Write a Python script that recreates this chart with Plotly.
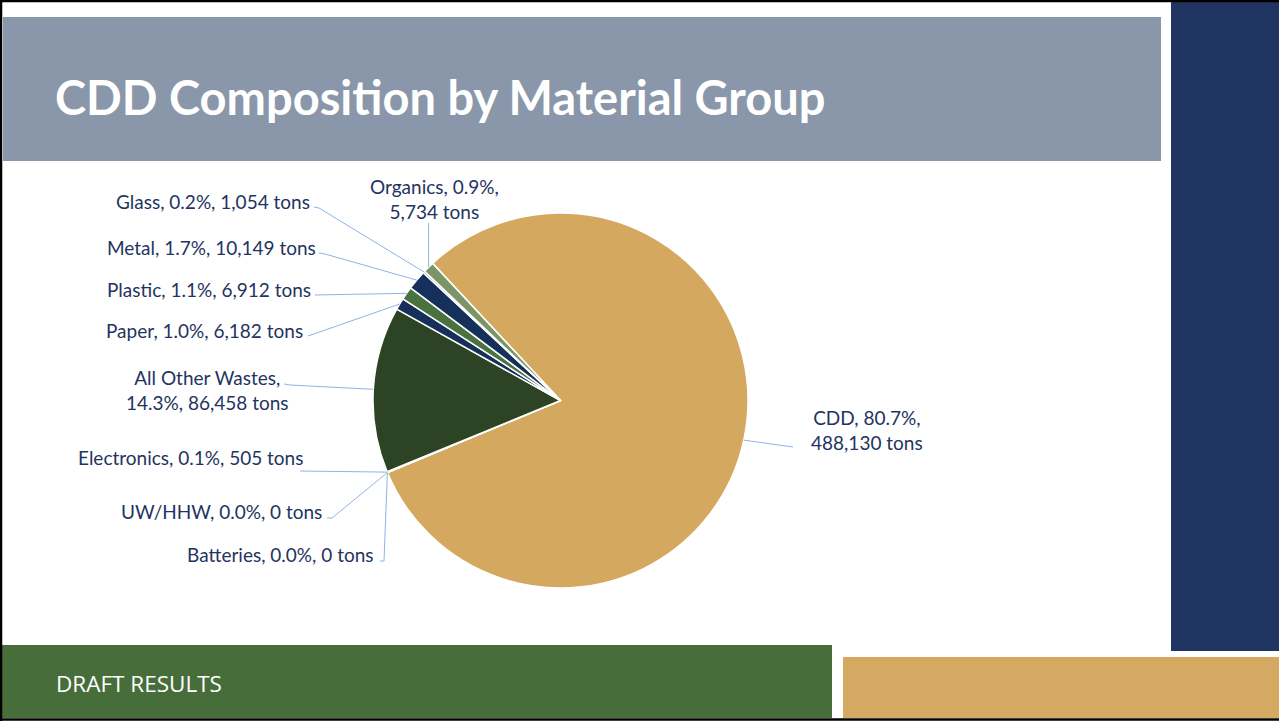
import math
import plotly.graph_objects as go

W, H = 1279, 721

# Material groups, tonnage and shares, in drawing order (clockwise)
materials = ["CDD", "Batteries", "UW/HHW", "Electronics", "All Other Wastes",
             "Paper", "Plastic", "Metal", "Glass", "Organics"]
tons = [488130, 0, 0, 505, 86458, 6182, 6912, 10149, 1054, 5734]
shares = ["80.7%", "0.0%", "0.0%", "0.1%", "14.3%", "1.0%", "1.1%", "1.7%", "0.2%", "0.9%"]
colors = ["#D4A95F", "#C0504D", "#8064A2", "#4BACC6", "#2C4424",
          "#17305A", "#4A7140", "#15305A", "#8A97AA", "#7C9566"]

# Label placement: (x, y, xanchor, line breaks after the share)
label_layout = {
    "CDD": (867, 430, "center", True),
    "Batteries": (376, 554, "right", False),
    "UW/HHW": (324, 511, "right", False),
    "Electronics": (305, 457, "right", False),
    "All Other Wastes": (207, 390, "center", "name"),
    "Paper": (305, 330, "right", False),
    "Plastic": (313, 289, "right", False),
    "Metal": (318, 247, "right", False),
    "Glass": (312, 201, "right", False),
    "Organics": (434, 199, "center", True),
}
# Leader-line bends near each label (pixel positions), the slice end is computed
leader_bends = {
    "CDD": [(793, 447)],
    "Batteries": [(380, 561), (384, 561)],
    "UW/HHW": [(327, 518), (332, 518)],
    "Electronics": [(300, 471)],
    "All Other Wastes": [(284, 384), (290, 385)],
    "Paper": [(308, 336)],
    "Plastic": [(315, 295)],
    "Metal": [(319, 253), (325, 254)],
    "Glass": [(314, 207), (319, 208)],
    "Organics": [(None, 223)],
}

ROTATION = 317
CX, CY, R = 560.5, 400.5, 187.5

TEXT = "#1F3461"
LEADER = "#8EB4E3"


def px(x):
    return x / W


def py(y):
    return 1 - y / H


fig = go.Figure()

fig.add_trace(go.Pie(
    labels=materials,
    values=tons,
    sort=False,
    direction="clockwise",
    rotation=ROTATION,
    marker=dict(colors=colors, line=dict(color="white", width=1.5)),
    textinfo="none",
    hovertemplate="%{label}: %{value:,} tons<extra></extra>",
    showlegend=False,
    domain=dict(x=[px(CX - R), px(CX + R)], y=[py(CY + R), py(CY - R)]),
))

shapes = []
# slide decoration
shapes.append(dict(type="rect", xref="paper", yref="paper", x0=px(3), x1=px(1161), y0=py(17), y1=py(161),
                   fillcolor="#8A97AA", line=dict(width=0), layer="below"))
shapes.append(dict(type="rect", xref="paper", yref="paper", x0=px(1171), x1=px(1279), y0=py(2), y1=py(651),
                   fillcolor="#1F3461", line=dict(width=0), layer="below"))
shapes.append(dict(type="rect", xref="paper", yref="paper", x0=px(2), x1=px(832), y0=py(645), y1=py(718),
                   fillcolor="#476E3A", line=dict(width=0), layer="below"))
shapes.append(dict(type="rect", xref="paper", yref="paper", x0=px(843), x1=px(1279), y0=py(657), y1=py(718),
                   fillcolor="#D4AA62", line=dict(width=0), layer="below"))
for (x0, y0, x1, y1) in [(0, 1, W, 1), (1, 0, 1, H), (0, 719.5, W, 719.5)]:
    shapes.append(dict(type="line", xref="paper", yref="paper", x0=px(x0), y0=py(y0), x1=px(x1), y1=py(y1),
                       line=dict(color="black", width=2.5)))

# leader lines, ending at the outer midpoint of each slice
total = sum(tons)
cum = 0
annotations = []
for name, v, share in zip(materials, tons, shares):
    mid = ROTATION + (cum + v / 2) / total * 360
    cum += v
    a = math.radians(mid)
    ax, ay = CX + R * math.sin(a), CY - R * math.cos(a)
    pts = [(ax if x is None else x, y) for x, y in leader_bends[name]]
    if name == "CDD":
        pts = [(ax, ay)] + pts
    else:
        pts = pts + [(ax, ay)]
    for (x0, y0), (x1, y1) in zip(pts[:-1], pts[1:]):
        shapes.append(dict(type="line", xref="paper", yref="paper", x0=px(x0), y0=py(y0), x1=px(x1), y1=py(y1),
                           line=dict(color=LEADER, width=1)))

    lx, ly, anchor, brk = label_layout[name]
    if brk == "name":
        text = f"{name},<br>{share}, {v:,} tons"
    elif brk:
        text = f"{name}, {share},<br>{v:,} tons"
    else:
        text = f"{name}, {share}, {v:,} tons"
    annotations.append(dict(xref="paper", yref="paper", x=px(lx), y=py(ly), xanchor=anchor, yanchor="middle",
                            text=text, showarrow=False, align="center",
                            font=dict(family="Lato", size=19, color=TEXT)))

annotations.append(dict(xref="paper", yref="paper", x=px(53), y=py(97), xanchor="left", yanchor="middle",
                        text="<b>CDD Composition by Material Group</b>", showarrow=False,
                        font=dict(family="Lato", size=47, color="white")))
annotations.append(dict(xref="paper", yref="paper", x=px(54), y=py(683), xanchor="left", yanchor="middle",
                        text="DRAFT RESULTS", showarrow=False,
                        font=dict(family="Open Sans", size=22.5, color="white")))

fig.update_layout(
    width=W, height=H,
    margin=dict(l=0, r=0, t=0, b=0),
    paper_bgcolor="white",
    plot_bgcolor="white",
    shapes=shapes,
    annotations=annotations,
)

fig.write_html("out.html")
